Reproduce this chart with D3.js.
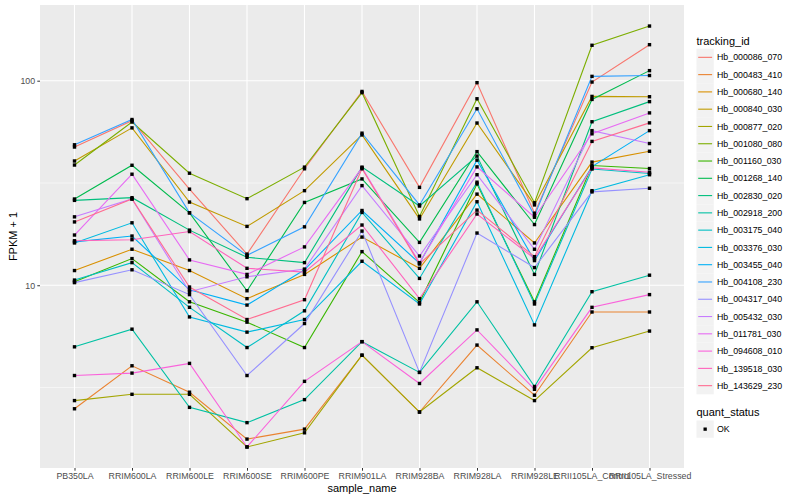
<!DOCTYPE html>
<html>
<head>
<meta charset="utf-8">
<script src="https://cdn.jsdelivr.net/npm/d3@7"></script>
<style>
  body { margin: 0; background: #fff; }
  text { font-family: "Liberation Sans", Arial, sans-serif; }
</style>
</head>
<body>
<div id="chart"></div>
<script>
const samples = ['PB350LA', 'RRIM600LA', 'RRIM600LE', 'RRIM600SE', 'RRIM600PE', 'RRIM901LA',
  'RRIM928BA', 'RRIM928LA', 'RRIM928LE', 'RRII105LA_Control', 'RRII105LA_Stressed'];

const trackingIds = ['Hb_000086_070', 'Hb_000483_410', 'Hb_000680_140', 'Hb_000840_030', 'Hb_000877_020',
  'Hb_001080_080', 'Hb_001160_030', 'Hb_001268_140', 'Hb_002830_020', 'Hb_002918_200',
  'Hb_003175_040', 'Hb_003376_030', 'Hb_003455_040', 'Hb_004108_230', 'Hb_004317_040',
  'Hb_005432_030', 'Hb_011781_030', 'Hb_094608_010', 'Hb_139518_030', 'Hb_143629_230'];

// FPKM + 1 per gene, one value per sample
const fpkm = [
  [47.4, 63.7, 29.5, 14.2, 37.1, 88.6, 30.1, 97.8, 22.5, 98.5, 150],
  [2.49, 4.04, 3.0, 1.77, 1.98, 4.55, 2.4, 5.1, 2.9, 7.4, 7.4],
  [11.8, 15.0, 11.8, 8.6, 11.3, 17.2, 12.1, 27.9, 16.1, 40, 45.2],
  [40.5, 58.8, 25.5, 19.4, 29.0, 54.3, 21.1, 62.1, 24.7, 83.8, 83.5],
  [2.73, 2.93, 2.93, 1.62, 1.90, 4.55, 2.4, 3.95, 2.73, 4.95, 5.97],
  [38.7, 62.8, 35.3, 26.5, 37.8, 87.4, 21.7, 81.6, 25.3, 149, 185],
  [10.4, 13.5, 8.3, 6.6, 4.96, 14.6, 8.25, 31.3, 8.3, 38.5, 37.2],
  [26.4, 38.6, 22.6, 9.4, 25.4, 33.1, 16.2, 45.0, 19.8, 81, 112],
  [26.0, 26.8, 18.6, 13.7, 12.9, 37.8, 24.4, 42.8, 11.3, 63, 79],
  [5.0, 6.1, 2.53, 2.13, 2.76, 5.3, 3.75, 8.3, 3.2, 9.3, 11.2],
  [10.6, 12.9, 7.8, 4.96, 7.5, 22.7, 10.8, 31.9, 8.1, 37, 35.2],
  [16.1, 20.2, 7.0, 5.9, 6.8, 13.1, 8.1, 25.6, 6.4, 29, 34.7],
  [16.3, 17.4, 9.5, 8.0, 11.9, 23.2, 12.8, 40.9, 13.2, 38, 57],
  [48.6, 64.6, 22.6, 14.0, 19.3, 55.4, 24.7, 72.9, 21.9, 105, 106],
  [10.3, 11.9, 9.0, 3.62, 6.5, 18.4, 3.75, 18.0, 12.2, 28.6, 29.8],
  [21.6, 26.4, 9.3, 11.0, 12.0, 30.7, 13.9, 34.7, 15.0, 57, 49.3],
  [17.6, 34.9, 13.3, 11.3, 15.4, 37.5, 12.9, 37.9, 21.5, 55, 69.6],
  [3.62, 3.72, 4.15, 1.62, 3.39, 5.3, 3.31, 6.05, 3.1, 7.8, 9.0],
  [16.5, 16.7, 18.3, 12.1, 11.6, 19.7, 8.6, 22.3, 13.5, 37.5, 35.7],
  [20.4, 26.4, 9.8, 6.8, 8.5, 37.1, 12.7, 23.3, 13.8, 50.5, 62.2]
];

const yTicks = [10, 100];
const yMinor = [Math.pow(10, 0.5), Math.pow(10, 1.5)];

// ggplot hue palette, 20 levels
const colors = ['#F8766D', '#EA8331', '#D89000', '#C09B00', '#A3A500', '#7CAE00', '#39B600', '#00BB4E',
  '#00BF7D', '#00C1A3', '#00BFC4', '#00BAE0', '#00B0F6', '#35A2FF', '#9590FF', '#C77CFF',
  '#E76BF3', '#FA62DB', '#FF62BC', '#FF6C91'];

const width = 800;
const height = 500;
const panel = { left: 40, right: 684, top: 5, bottom: 468 };

const svg = d3.select('#chart')
  .append('svg')
  .attr('width', width)
  .attr('height', height);

const x = d3.scalePoint()
  .domain(samples)
  .range([panel.left, panel.right])
  .padding(0.6);

const all = fpkm.flat().map(v => Math.log10(v));
const lo = d3.min(all), hi = d3.max(all);
const pad = (hi - lo) * 0.05;
const y = d3.scaleLog()
  .domain([Math.pow(10, lo - pad), Math.pow(10, hi + pad)])
  .range([panel.bottom, panel.top]);

// panel
svg.append('rect')
  .attr('x', panel.left).attr('y', panel.top)
  .attr('width', panel.right - panel.left).attr('height', panel.bottom - panel.top)
  .attr('fill', '#EBEBEB');

const grid = svg.append('g').attr('stroke', '#fff');
grid.selectAll('.minor').data(yMinor).join('line')
  .attr('x1', panel.left).attr('x2', panel.right)
  .attr('y1', d => y(d)).attr('y2', d => y(d))
  .attr('stroke-width', 0.55);
grid.selectAll('.major').data(yTicks).join('line')
  .attr('x1', panel.left).attr('x2', panel.right)
  .attr('y1', d => y(d)).attr('y2', d => y(d))
  .attr('stroke-width', 1.1);
grid.selectAll('.vx').data(samples).join('line')
  .attr('x1', d => x(d)).attr('x2', d => x(d))
  .attr('y1', panel.top).attr('y2', panel.bottom)
  .attr('stroke-width', 1.1);

// lines
const line = d3.line()
  .x((d, i) => x(samples[i]))
  .y(d => y(d));

svg.append('g')
  .selectAll('path')
  .data(fpkm)
  .join('path')
    .attr('d', line)
    .attr('fill', 'none')
    .attr('stroke', (d, i) => colors[i])
    .attr('stroke-width', 1.1);

// points
const pts = [];
fpkm.forEach(row => row.forEach((v, i) => pts.push({ s: samples[i], v })));
svg.append('g')
  .selectAll('rect')
  .data(pts)
  .join('rect')
    .attr('x', d => x(d.s) - 1.7)
    .attr('y', d => y(d.v) - 1.7)
    .attr('width', 3.4)
    .attr('height', 3.4)
    .attr('fill', '#000');

// axes
function yAxis(g) {
  g.attr('transform', `translate(${panel.left},0)`)
    .call(d3.axisLeft(y).tickValues(yTicks).tickFormat(d3.format('d')).tickSize(2.7).tickPadding(2.2))
    .call(g => g.select('.domain').remove())
    .call(g => g.selectAll('line').attr('stroke', '#333'))
    .call(g => g.selectAll('text').attr('fill', '#4D4D4D').attr('font-size', '8.8px')
      .style('font-family', '"Liberation Sans", Arial, sans-serif'));
}

function xAxis(g) {
  g.attr('transform', `translate(0,${panel.bottom})`)
    .call(d3.axisBottom(x).tickSize(2.7).tickPadding(2.2))
    .call(g => g.select('.domain').remove())
    .call(g => g.selectAll('line').attr('stroke', '#333'))
    .call(g => g.selectAll('text').attr('fill', '#4D4D4D').attr('font-size', '8.8px')
      .style('font-family', '"Liberation Sans", Arial, sans-serif'));
}

svg.append('g').call(xAxis);
svg.append('g').call(yAxis);

svg.append('text')
  .attr('x', (panel.left + panel.right) / 2)
  .attr('y', 492)
  .attr('text-anchor', 'middle')
  .attr('font-size', '11px')
  .text('sample_name');

svg.append('text')
  .attr('transform', `translate(16.5,${(panel.top + panel.bottom) / 2}) rotate(-90)`)
  .attr('text-anchor', 'middle')
  .attr('font-size', '11px')
  .text('FPKM + 1');

// legend: tracking_id
const lg = svg.append('g');
lg.append('text')
  .attr('x', 696.5).attr('y', 44.5)
  .attr('font-size', '11px')
  .text('tracking_id');

const keys = lg.selectAll('g.key')
  .data(trackingIds)
  .join('g')
    .attr('transform', (d, i) => `translate(696.5,${48.7 + i * 17.28})`);
keys.append('rect')
  .attr('width', 17.28).attr('height', 17.28)
  .attr('fill', '#F2F2F2');
keys.append('line')
  .attr('x1', 1.7).attr('x2', 15.6)
  .attr('y1', 8.64).attr('y2', 8.64)
  .attr('stroke', (d, i) => colors[i])
  .attr('stroke-width', 1.1);
keys.append('text')
  .attr('x', 20.5).attr('y', 11.8)
  .attr('font-size', '8.8px')
  .text(d => d);

// legend: quant_status
lg.append('text')
  .attr('x', 696.5).attr('y', 416)
  .attr('font-size', '11px')
  .text('quant_status');
const q = lg.append('g').attr('transform', 'translate(696.5,420.5)');
q.append('rect').attr('width', 17.28).attr('height', 17.28).attr('fill', '#F2F2F2');
q.append('rect').attr('x', 7).attr('y', 7).attr('width', 3.3).attr('height', 3.3).attr('fill', '#000');
q.append('text').attr('x', 20.5).attr('y', 11.8).attr('font-size', '8.8px').text('OK');
</script>
</body>
</html>
